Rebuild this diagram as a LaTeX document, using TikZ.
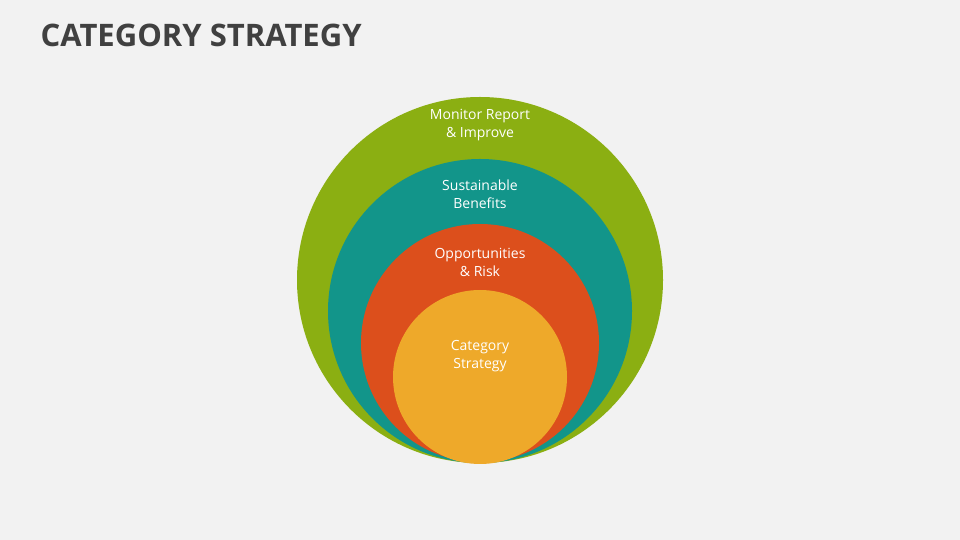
\documentclass[tikz,border=0pt]{standalone}
\usepackage{fontspec}
\setmainfont{Open Sans}
\definecolor{bg}{HTML}{F2F2F2}
\definecolor{cgreen}{HTML}{8BAF12}
\definecolor{cteal}{HTML}{12958A}
\definecolor{cred}{HTML}{DC4F1C}
\definecolor{cyel}{HTML}{EEA92A}
\definecolor{ctitle}{HTML}{404040}
\begin{document}
\begin{tikzpicture}[x=1pt,y=1pt,
  lbl/.style={text=white,font=\fontsize{14}{18}\selectfont,align=center}]
\fill[bg] (0,0) rectangle (960,540);
\useasboundingbox (0,0) rectangle (960,540);
\node[anchor=west,text=ctitle,font=\fontsize{31}{36}\selectfont\bfseries] (title) at (37,505) {CATEGORY STRATEGY};
\fill[cgreen] (480,260) circle (183);
\fill[cteal] (480,229) circle (152);
\fill[cred] (480,197) circle (119);
\fill[cyel] (480,163) circle (87);
\node[lbl] (l1) at (480,415) {Monitor Report\\\& Improve};
\node[lbl] (l2) at (480,346) {Sustainable\\Benefits};
\node[lbl] (l3) at (480,278) {Opportunities\\\& Risk};
\node[lbl] (l4) at (480,184) {Category\\Strategy};
\end{tikzpicture}
\end{document}
